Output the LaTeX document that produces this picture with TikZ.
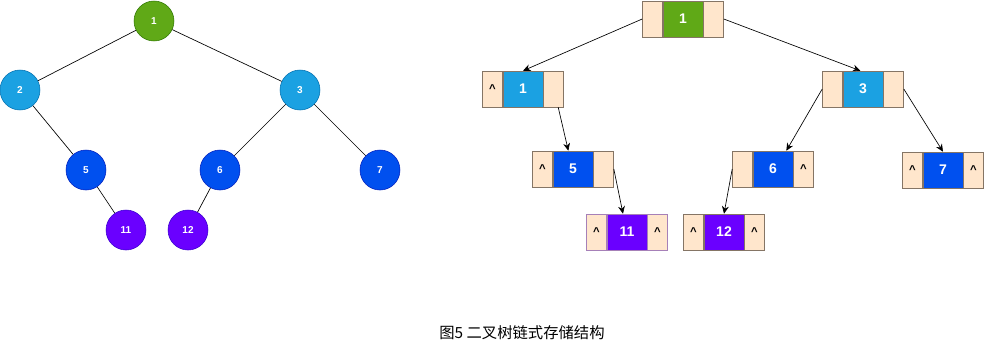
\documentclass[tikz,border=0pt]{standalone}
\usepackage{fontspec}
\setmainfont{Liberation Sans}
\newfontfamily\cjkfont{Noto Sans CJK SC}
\usepackage{xcolor}
\usetikzlibrary{arrows.meta,positioning}

\definecolor{grnfill}{HTML}{60A917}
\definecolor{grnline}{HTML}{2D7600}
\definecolor{skyfill}{HTML}{1BA1E2}
\definecolor{skyline}{HTML}{006EAF}
\definecolor{bluefill}{HTML}{0050EF}
\definecolor{blueline}{HTML}{001DBC}
\definecolor{purpfill}{HTML}{6A00FF}
\definecolor{purpline}{HTML}{3700CC}
\definecolor{cellfill}{HTML}{FFE6CC}
\definecolor{cellline}{HTML}{857565}
\definecolor{cellpurp}{HTML}{A680B8}

\begin{document}
\begin{tikzpicture}[x=0.75pt, y=-0.75pt,
  cir/.style={circle, draw, minimum size=30pt, inner sep=0pt, text=white, font=\fontsize{7.5}{8}\selectfont\bfseries},
  cell/.style={draw=cellline, fill=cellfill, minimum width=15pt, minimum height=27pt, inner sep=0pt, font=\fontsize{8.5}{9}\selectfont\bfseries},
  mid/.style={draw=cellline, minimum width=30pt, minimum height=27pt, inner sep=0pt, text=white, font=\fontsize{10.5}{11}\selectfont\bfseries},
  edge/.style={black, line width=0.5pt},
  arr/.style={-{Stealth[length=2mm, width=1.8mm]}, line width=0.5pt}]
  \useasboundingbox (0,0) rectangle (995,362);
  % left: the tree itself
  \node[cir, fill=grnfill, draw=grnline] (c1) at (154,21) {1};
  \node[cir, fill=skyfill, draw=skyline] (c2) at (20,90) {2};
  \node[cir, fill=skyfill, draw=skyline] (c3) at (300,90) {3};
  \node[cir, fill=bluefill, draw=blueline] (c5) at (86,170) {5};
  \node[cir, fill=bluefill, draw=blueline] (c6) at (220,170) {6};
  \node[cir, fill=bluefill, draw=blueline] (c7) at (380,170) {7};
  \node[cir, fill=purpfill, draw=purpline] (c11) at (126,230) {11};
  \node[cir, fill=purpfill, draw=purpline] (c12) at (188,230) {12};
  \draw[edge] (c1) -- (c2);
  \draw[edge] (c1) -- (c3);
  \draw[edge] (c2) -- (c5);
  \draw[edge] (c3) -- (c6);
  \draw[edge] (c3) -- (c7);
  \draw[edge] (c5) -- (c11);
  \draw[edge] (c6) -- (c12);
  % right: linked storage, lchild | data | rchild
  \node[mid, fill=grnfill] (r1m) at (683,19) {1};
  \node[cell, left=0pt of r1m] (r1l) {};
  \node[cell, right=0pt of r1m] (r1r) {};
  \node[mid, fill=skyfill] (a1m) at (523,89) {1};
  \node[cell, left=0pt of a1m] (a1l) {\textasciicircum};
  \node[cell, right=0pt of a1m] (a1r) {};
  \node[mid, fill=skyfill] (a3m) at (863,89) {3};
  \node[cell, left=0pt of a3m] (a3l) {};
  \node[cell, right=0pt of a3m] (a3r) {};
  \node[mid, fill=bluefill] (a5m) at (573,169) {5};
  \node[cell, left=0pt of a5m] (a5l) {\textasciicircum};
  \node[cell, right=0pt of a5m] (a5r) {};
  \node[mid, fill=bluefill] (a6m) at (773,169) {6};
  \node[cell, left=0pt of a6m] (a6l) {};
  \node[cell, right=0pt of a6m] (a6r) {\textasciicircum};
  \node[mid, fill=bluefill] (a7m) at (943,170) {7};
  \node[cell, left=0pt of a7m] (a7l) {\textasciicircum};
  \node[cell, right=0pt of a7m] (a7r) {\textasciicircum};
  \node[mid, fill=purpfill, draw=cellpurp] (a11m) at (627,232) {11};
  \node[cell, draw=cellpurp, left=0pt of a11m] (a11l) {\textasciicircum};
  \node[cell, draw=cellpurp, right=0pt of a11m] (a11r) {\textasciicircum};
  \node[mid, fill=purpfill] (a12m) at (724,232) {12};
  \node[cell, left=0pt of a12m] (a12l) {\textasciicircum};
  \node[cell, right=0pt of a12m] (a12r) {\textasciicircum};
  % pointers
  \draw[arr] (r1l.west) -- (a1m.north);
  \draw[arr] (r1r.east) -- ([xshift=-2pt]a3m.north);
  \draw[arr] ([xshift=3.5pt]a1r.south) -- ([xshift=-3.5pt]a5m.north);
  \draw[arr] (a5r.east) -- ([xshift=-3pt]a11m.north);
  \draw[arr] (a3l.west) -- ([xshift=10pt]a6m.north);
  \draw[arr] (a3r.east) -- (a7m.north);
  \draw[arr] (a6l.west) -- (a12m.north);
  % caption
  \node[font=\cjkfont\fontsize{11.5}{13}\selectfont] (cap) at (522,333) {图5 二叉树链式存储结构};
\end{tikzpicture}
\end{document}
